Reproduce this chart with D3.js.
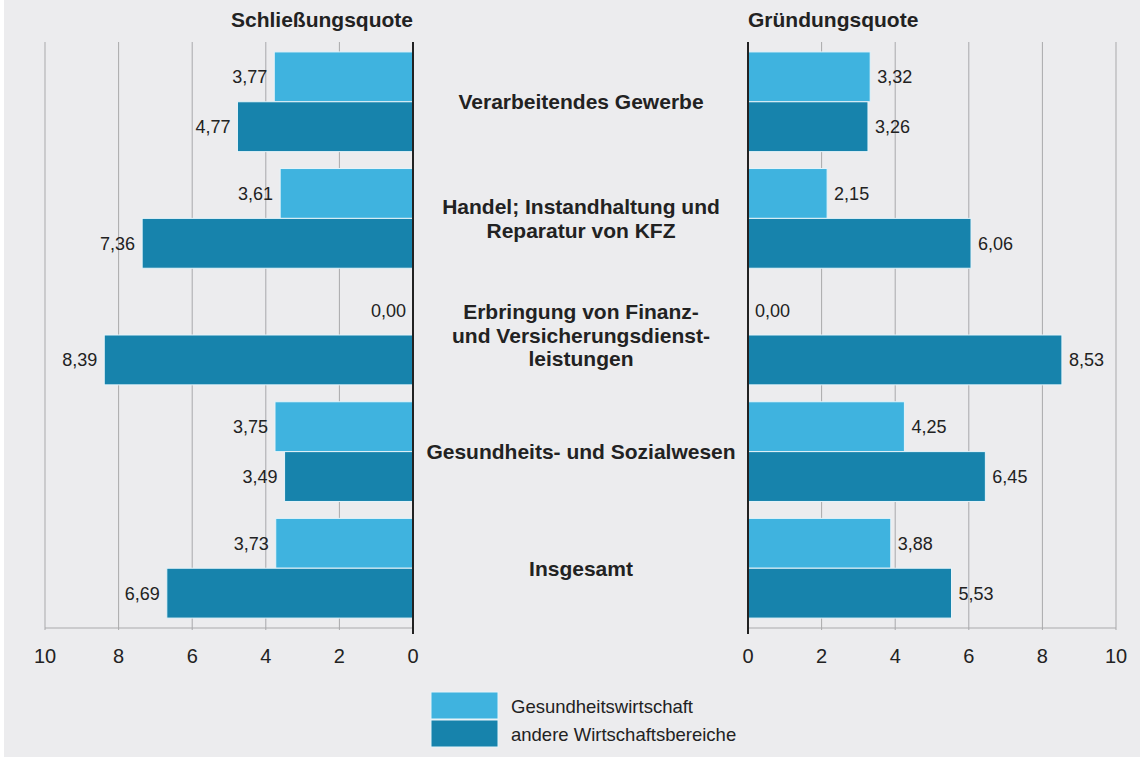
<!DOCTYPE html>
<html><head><meta charset="utf-8">
<script src="https://cdn.jsdelivr.net/npm/d3@7/dist/d3.min.js"></script>
<style>body{margin:0;background:#fff;}svg{display:block;font-family:"Liberation Sans",Arial,sans-serif;}</style>
</head><body>
<svg id="c" width="1140" height="758"></svg>
<script>
const categories = [
  ["Verarbeitendes Gewerbe"],
  ["Handel; Instandhaltung und", "Reparatur von KFZ"],
  ["Erbringung von Finanz-", "und Versicherungsdienst-", "leistungen"],
  ["Gesundheits- und Sozialwesen"],
  ["Insgesamt"]
];
const seriesNames = ["Gesundheitswirtschaft", "andere Wirtschaftsbereiche"];
const schliessungGW = [3.77, 3.61, 0.00, 3.75, 3.73];
const schliessungAnd = [4.77, 7.36, 8.39, 3.49, 6.69];
const gruendungGW = [3.32, 2.15, 0.00, 4.25, 3.88];
const gruendungAnd = [3.26, 6.06, 8.53, 6.45, 5.53];
const ticks = [0, 2, 4, 6, 8, 10];
const colors = ["#3fb3df", "#1783ac"];
const fmt = v => v.toFixed(2).replace(".", ",");

const svg = d3.select("#c");
svg.append("rect").attr("x", 4).attr("y", 0).attr("width", 1136).attr("height", 757).attr("fill", "#ececee");

const plotTop = 42, plotBottom = 628;
const y = d3.scaleBand().domain(d3.range(categories.length)).range([plotTop, plotBottom]).paddingInner(0.145).paddingOuter(0.085);
const xL = d3.scaleLinear().domain([0, 10]).range([413, 45]);
const xR = d3.scaleLinear().domain([0, 10]).range([748, 1116]);

function panel(x, gw, and, side, title) {
  const g = svg.append("g");
  g.selectAll("line.grid").data(ticks.slice(1)).join("line")
    .attr("x1", d => x(d)).attr("x2", d => x(d)).attr("y1", plotTop).attr("y2", plotBottom + 2)
    .attr("stroke", "#a9a9ab").attr("stroke-width", 1);
  g.append("line").attr("x1", x(0)).attr("x2", x(10)).attr("y1", plotBottom).attr("y2", plotBottom)
    .attr("stroke", "#a9a9ab").attr("stroke-width", 1.2);
  const sub = y.bandwidth() / 2;
  [gw, and].forEach((vals, si) => {
    g.selectAll("rect.s" + si).data(vals).join("rect")
      .attr("x", d => Math.min(x(0), x(d)))
      .attr("width", d => Math.abs(x(d) - x(0)))
      .attr("y", (d, i) => y(i) + si * sub)
      .attr("height", sub)
      .attr("fill", colors[si])
      .attr("stroke", d => d > 0 ? "#e6f4fa" : "none").attr("stroke-width", 1);
    g.selectAll("text.v" + si).data(vals).join("text")
      .attr("x", d => side === "L" ? x(d) - 7 : x(d) + 7)
      .attr("y", (d, i) => y(i) + si * sub + sub / 2 + 6.5)
      .attr("text-anchor", side === "L" ? "end" : "start")
      .attr("font-size", 18).attr("fill", "#222")
      .text(d => fmt(d));
  });
  g.append("line").attr("x1", x(0)).attr("x2", x(0)).attr("y1", plotTop).attr("y2", plotBottom + 6)
    .attr("stroke", "#222").attr("stroke-width", 2);
  g.selectAll("text.t").data(ticks).join("text")
    .attr("x", d => x(d)).attr("y", 663).attr("text-anchor", "middle")
    .attr("font-size", 20).attr("fill", "#222").text(d => d);
  g.append("text").attr("x", x(0)).attr("y", 27)
    .attr("text-anchor", side === "L" ? "end" : "start")
    .attr("font-size", 21).attr("font-weight", "bold").attr("fill", "#222").text(title);
}
panel(xL, schliessungGW, schliessungAnd, "L", "Schließungsquote");
panel(xR, gruendungGW, gruendungAnd, "R", "Gründungsquote");

const cg = svg.append("g");
categories.forEach((lines, i) => {
  const cy = y(i) + y.bandwidth() / 2;
  const lh = 23.5;
  const t = cg.append("text").attr("text-anchor", "middle").attr("font-size", 21)
    .attr("font-weight", "bold").attr("fill", "#222");
  lines.forEach((l, j) => {
    t.append("tspan").attr("x", 581).attr("y", cy + 7.5 + (j - (lines.length - 1) / 2) * lh).text(l);
  });
});

const lg = svg.append("g");
seriesNames.forEach((n, i) => {
  lg.append("rect").attr("x", 431).attr("y", 692 + i * 28).attr("width", 67).attr("height", 27)
    .attr("fill", colors[i]).attr("stroke", "#e6f4fa").attr("stroke-width", 1);
  lg.append("text").attr("x", 511).attr("y", 713 + i * 28).attr("font-size", 18.5).attr("fill", "#222").text(n);
});
</script>
</body></html>
